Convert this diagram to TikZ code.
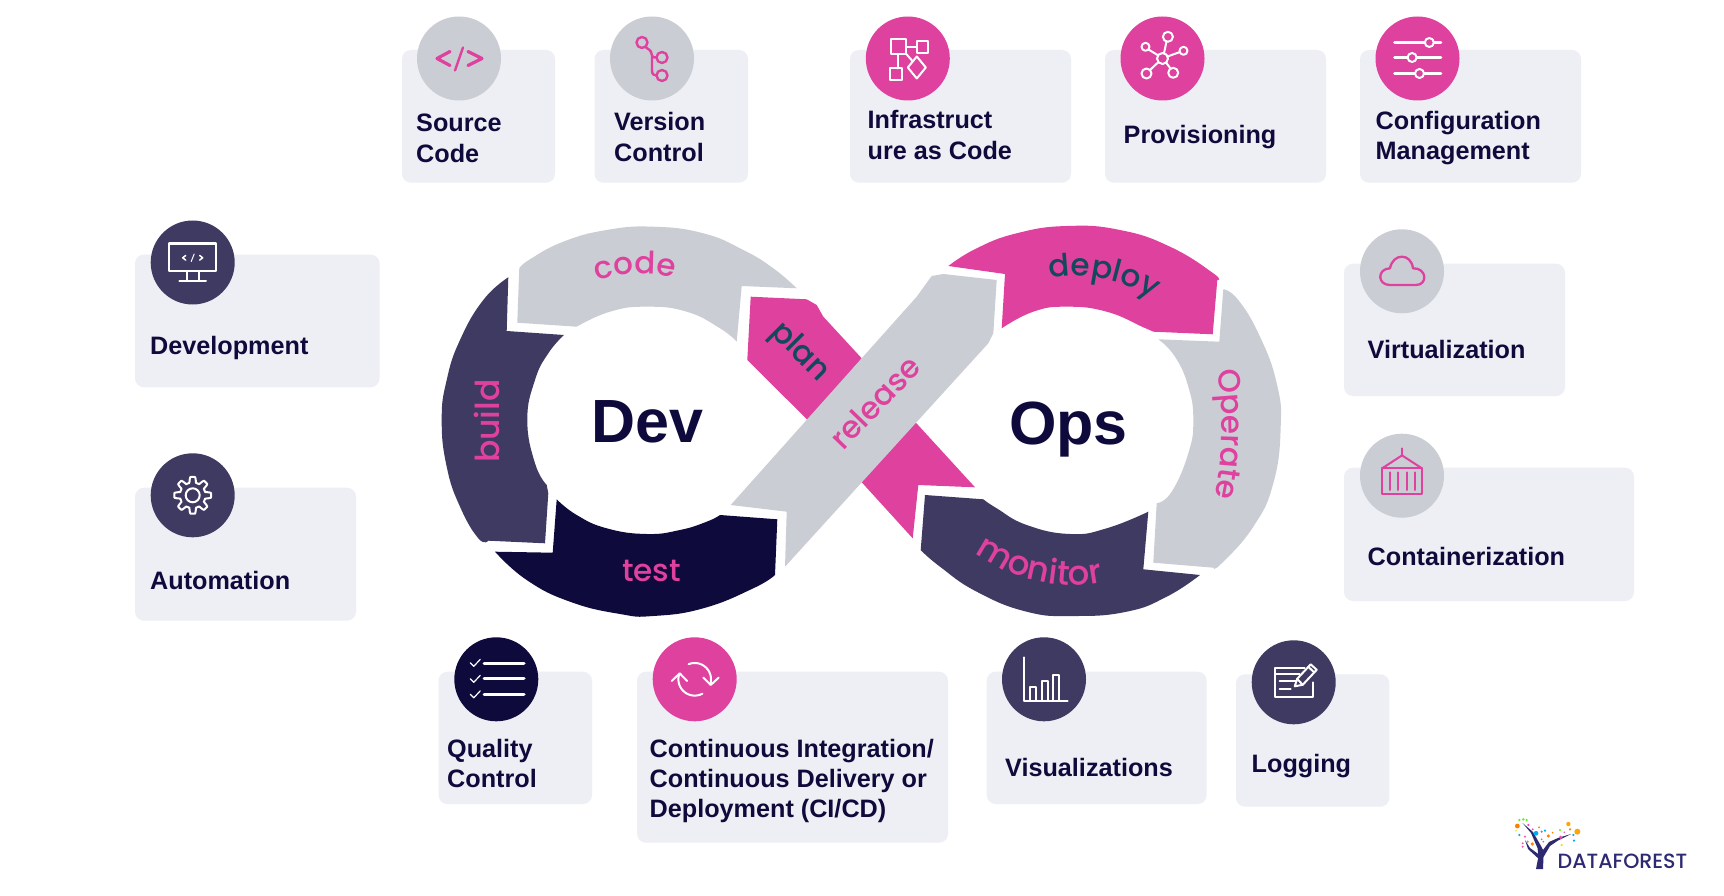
\documentclass[tikz,border=0pt]{standalone}
\usepackage{fontspec}
\setmainfont{Liberation Sans}
\newfontfamily\rnd{Poppins Medium}
\usetikzlibrary{decorations.text}
\definecolor{pk}{HTML}{DE419E}
\definecolor{gy}{HTML}{CBCDD5}
\definecolor{nv}{HTML}{3F3A62}
\definecolor{dk}{HTML}{0F0A3C}
\definecolor{cardc}{HTML}{EEEFF4}
\definecolor{teal2}{HTML}{124A5C}
\definecolor{logoc}{HTML}{2E2A72}
\tikzset{
 x=1pt,y=-1pt,
 cardbox/.style={fill=cardc,rounded corners=9pt,draw=none},
 badge/.style={circle,minimum size=84pt,inner sep=0pt,draw=none},
 lbl/.style={anchor=base west,inner sep=0pt,text=dk,font=\bfseries\fontsize{25.2}{30}\selectfont},
 big/.style={anchor=base west,inner sep=0pt,text=dk,font=\bfseries\fontsize{61}{61}\selectfont},
 arcword/.style={inner sep=0pt,text=pk,font=\rnd\fontsize{31}{36}\selectfont},
 ico/.style={line width=2pt,line cap=round,line join=round},
}
\newcommand\twol[2]{\vtop{\baselineskip=30.2pt\hbox{#1}\hbox{#2}}}
\newcommand\threel[3]{\vtop{\baselineskip=30.2pt\hbox{#1}\hbox{#2}\hbox{#3}}}
\begin{document}
\begin{tikzpicture}
\useasboundingbox (0,0) rectangle (1724,896);
\fill[white] (0,0) rectangle (1724,896);
% ---------- cards ----------
\fill[cardbox] (402,50) rectangle (555,182.7);
\fill[cardbox] (594.5,50) rectangle (748,182.7);
\fill[cardbox] (850,50) rectangle (1071,182.7);
\fill[cardbox] (1105,50) rectangle (1326,182.7);
\fill[cardbox] (1360,50) rectangle (1581,182.7);
\fill[cardbox] (135,254.5) rectangle (379.5,387.3);
\fill[cardbox] (135,487.7) rectangle (356,620.7);
\fill[cardbox] (1344,263.7) rectangle (1565,396);
\fill[cardbox] (1344,467.7) rectangle (1634,601);
\fill[cardbox] (438.5,671.7) rectangle (592,804);
\fill[cardbox] (637,671.7) rectangle (948,842.7);
\fill[cardbox] (986.7,671.7) rectangle (1206.7,804);
\fill[cardbox] (1236,674.3) rectangle (1389.3,806.7);
% ---------- badges ----------
\node[badge,fill=gy] (bSource) at (459,58.5) {};
\node[badge,fill=gy] (bVersion) at (652,58.5) {};
\node[badge,fill=pk] (bInfra) at (907.8,58.5) {};
\node[badge,fill=pk] (bProv) at (1162.5,58.5) {};
\node[badge,fill=pk] (bConf) at (1417.5,58.5) {};
\node[badge,fill=nv] (bDev) at (192.7,262.5) {};
\node[badge,fill=nv] (bAuto) at (192.7,495.3) {};
\node[badge,fill=gy] (bVirt) at (1402,271.3) {};
\node[badge,fill=gy] (bCont) at (1402,475.7) {};
\node[badge,fill=dk] (bQual) at (496.3,679.3) {};
\node[badge,fill=pk] (bCI) at (694.7,679.3) {};
\node[badge,fill=nv] (bVis) at (1044,679.3) {};
\node[badge,fill=nv] (bLog) at (1293.7,682.3) {};
% ---------- labels ----------
\node[lbl] (tSource) at (416,132) {\twol{Source}{Code}};
\node[lbl] (tVersion) at (614,131) {\twol{Version}{Control}};
\node[lbl] (tInfra) at (867.5,129) {\twol{Infrastruct}{ure as Code}};
\node[lbl] (tProv) at (1123.5,143.5) {Provisioning};
\node[lbl] (tConf) at (1375.5,129.5) {\twol{Configuration}{Management}};
\node[lbl] (tDev) at (150,354.5) {Development};
\node[lbl] (tAuto) at (150,589.3) {Automation};
\node[lbl] (tVirt) at (1367.5,358.5) {Virtualization};
\node[lbl] (tCont) at (1367.5,565) {Containerization};
\node[lbl] (tQual) at (447,757) {\twol{Quality}{Control}};
\node[lbl] (tCI) at (649.5,757.5) {\threel{Continuous Integration/}{Continuous Delivery or}{Deployment (CI/CD)}};
\node[lbl] (tVis) at (1005,776) {Visualizations};
\node[lbl] (tLog) at (1251.5,772.7) {Logging};
% ---------- infinity segments ----------
% code
\fill[gy] plot[smooth,tension=.8] coordinates {(519.3,268.3) (530,259.3) (563.3,241.7) (606.7,230) (653.3,226.7) (703.3,233.3) (743.3,250) (773.3,268.3) (796.7,288.3)}
 -- (741.7,286) -- (736.7,341.7)
 -- plot[smooth,tension=.8] coordinates {(736.7,341.7) (720,328.3) (686.7,311.7) (646.7,306.7) (610,311.7) (576.7,326.7)}
 -- (517.3,322.7) -- cycle;
% build
\fill[nv] plot[smooth,tension=.8] coordinates {(508.3,277.3) (483.3,300) (460,340) (446.7,380) (441.7,420) (446.7,466.7) (460,506.7) (478.3,538.3) (488.3,540.7)}
 -- (545,543.3) -- (548.3,493.3) -- (546.7,485)
 -- plot[smooth,tension=.8] coordinates {(546.7,485) (535,463.3) (527.3,420) (535,380) (548.3,353.3) (564,335)}
 -- (506.7,331) -- cycle;
% test
\fill[dk] plot[smooth,tension=.8] coordinates {(495,551.7) (526.7,580) (570,601.7) (620,614) (653.3,616) (703.3,608.3) (753.3,588.3) (775,575)}
 -- (777.3,519.3) -- (720,515)
 -- plot[smooth,tension=.8] coordinates {(720,515) (706.7,521.7) (680,530) (646.7,534) (606.7,528.3) (576.7,515) (556.7,499.3)}
 -- (552.7,552.7) -- cycle;
% plan
\fill[pk] (750.7,296.7) -- (806.7,299.3) -- (816.7,305) -- (823.3,316.7) -- (861.7,358.3) -- (808.3,420.7) -- (747.3,360) -- cycle;
% lower crossing
\fill[pk] (915,421.7) -- (975,487.3) -- (918.3,485) -- (912.7,538.3) -- (861,481.5) -- cycle;
% release
\fill[gy] (730.7,505) -- (916.7,296.7) -- (931.7,276) -- (943.3,274) -- (996.7,280) -- (993.3,333.3) -- (988.3,343.3) -- (785,566.7) -- (786.7,511.7) -- cycle;
% deploy
\fill[pk] plot[smooth,tension=.8] coordinates {(948.3,266) (976.7,248.3) (1016.7,233.3) (1066.7,226) (1120,230) (1170,246.7) (1213.3,273.3) (1217.3,280)}
 -- (1212.7,334.3) -- (1153.3,331.7)
 -- plot[smooth,tension=.8] coordinates {(1153.3,331.7) (1143.3,327.3) (1106.7,311.7) (1066.7,306.7) (1033.3,311.7) (1001.7,328.3)}
 -- (1005,274) -- cycle;
% operate
\fill[gy] plot[smooth,tension=.8] coordinates {(1223.3,289.3) (1238.3,300) (1260,336.7) (1276.7,383.3) (1280.7,426.7) (1273.3,483.3) (1253.3,526.7) (1221.7,563.3) (1213.3,567.7)}
 -- (1153.3,562.7) -- (1156.7,503.3)
 -- plot[smooth,tension=.8] coordinates {(1156.7,503.3) (1171.7,491.7) (1188.3,453.3) (1193.3,420) (1188.3,386.7) (1175,356.7) (1158.3,339.3)}
 -- (1219.3,341.7) -- cycle;
% monitor
\fill[nv] (925,495) -- (983.3,499.3)
 -- plot[smooth,tension=.8] coordinates {(983.3,499.3) (996.7,508.3) (1026.7,525) (1070,534) (1106.7,528.3) (1148.3,511.7)}
 -- (1143.3,569.3) -- (1200,575)
 -- plot[smooth,tension=.8] coordinates {(1200,575) (1166.7,596.7) (1126.7,611.7) (1073.3,616) (1026.7,611.7) (976.7,591.7) (940,566.7) (920.7,550)}
 -- cycle;
% ---------- centre and segment words ----------
\node[big] (wDev) at (591,442.7) {Dev};
\node[big] (wOps) at (1009,444.5) {Ops};
\node[arcword,rotate=90,anchor=base,font=\rnd\fontsize{33}{36}\selectfont] (wBuild) at (499,421) {build};
\node[arcword,anchor=base] (wTest) at (651.5,581.5) {test};
\node[arcword,rotate=-45,anchor=base,text=teal2] (wPlan) at (794,358) {plan};
\node[arcword,rotate=46,anchor=base] (wRelease) at (883,410) {release};
\path[decorate,decoration={text along path,text align=center,text={|\rnd\fontsize{31}{36}\selectfont\color{pk}|code}}]
 plot[domain=-122:-62,samples=25] ({640+146*cos(\x)},{420+146*sin(\x)});
\path[decorate,decoration={text along path,text align=center,text={|\rnd\fontsize{31}{36}\selectfont\color{teal2}|deploy}}]
 plot[domain=-108:-50,samples=25] ({1075+148*cos(\x)},{424+148*sin(\x)});
\path[decorate,decoration={text along path,text align=center,text={|\rnd\fontsize{31}{36}\selectfont\color{pk}|Operate}}]
 plot[domain=-17:19,samples=25] ({882+340*cos(\x)},{428+340*sin(\x)});
\path[decorate,decoration={text along path,text align=center,text={|\rnd\fontsize{34}{36}\selectfont\color{pk}|monitor}}]
 plot[domain=131:75,samples=25] ({1073+164*cos(\x)},{421+164*sin(\x)});
% ---------- icons ----------
\begin{scope}[shift={(459,58.5)},ico,pk,line width=3.2pt]
 \draw (-9,-7) -- (-22,0) -- (-9,7);
 \draw (9,-7) -- (23,0) -- (9,7);
 \draw[line width=2.4pt] (-4,12) -- (4,-11);
\end{scope}
\begin{scope}[shift={(652,58.5)},ico,pk,line width=2.4pt]
 \draw (-10,-16) circle (5.5);
 \draw (10,-1) circle (5.5);
 \draw (10,17) circle (5.5);
 \draw (-6,-11) .. controls (-1,-8) and (0,-6) .. (0,-3) -- (0,12) .. controls (0,16) and (2,17) .. (4.5,17);
 \draw (0,-3) .. controls (0,-1) and (2,-1) .. (4.5,-1);
\end{scope}
\begin{scope}[shift={(907.8,58.5)},ico,white]
 \draw (-17,-19) rectangle (-1.5,-4.5);
 \draw (9,-17) rectangle (20,-5.5);
 \draw (-18,10) rectangle (-6,22);
 \draw (9,-2) -- (18,9) -- (9,20) -- (0,9) -- cycle;
 \draw (-1.5,-11) -- (9,-11);
 \draw (-10,-4.5) -- (-10,10);
 \draw (-1.5,-4.5) -- (5,3);
\end{scope}
\begin{scope}[shift={(1162.5,58.5)},ico,white]
 \draw (0,0) circle (5.5);
 \draw (5.4,-21.7) circle (5);
 \draw (-17,-11.7) circle (4);
 \draw (21,-7.7) circle (4);
 \draw (-16,15) circle (5);
 \draw (10.7,14.3) circle (5);
 \draw (1.5,-5.3) -- (4,-17);
 \draw (-4.5,-3.2) -- (-14,-9);
 \draw (5,-2) -- (17.5,-6.5);
 \draw (-4,3.5) -- (-12.5,11.5);
 \draw (3.5,4) -- (8,10);
\end{scope}
\begin{scope}[shift={(1417.5,58.5)},ico,white]
 \draw[line width=2.6pt] (-23,-16) -- (23.5,-16);
 \draw[line width=2.6pt] (-23,-1) -- (23.5,-1);
 \draw[line width=2.6pt] (-23,15) -- (23.5,15);
 \draw[fill=pk] (11.8,-16) circle (4.5);
 \draw[fill=pk] (-5.4,-1) circle (4.5);
 \draw[fill=pk] (2,15) circle (4.5);
\end{scope}
\begin{scope}[shift={(192.7,262.5)},ico,white]
 \draw (-23.3,-19) rectangle (23.3,8.7);
 \draw (-6,8.7) -- (-6,18.7);
 \draw (6,8.7) -- (6,18.7);
 \draw (-13.3,18.7) -- (13.3,18.7);
 \draw[line width=1.5pt] (-7,-7) -- (-10,-4.7) -- (-7,-2.4);
 \draw[line width=1.5pt] (7,-7) -- (10,-4.7) -- (7,-2.4);
 \draw[line width=1pt] (-1.5,-1) -- (1.5,-8.5);
\end{scope}
\begin{scope}[shift={(192.7,495.3)},ico,white]
 \draw plot[domain=0:360,samples=145,smooth] ({(15.6+2.8*min(1,max(-1,2.2*cos(8*\x))))*cos(\x)},{(15.6+2.8*min(1,max(-1,2.2*cos(8*\x))))*sin(\x)}) -- cycle;
 \draw (0,0) circle (7);
\end{scope}
\begin{scope}[shift={(1402,271.3)},ico,pk]
 \draw[line width=2.3pt] (-12,13.7) .. controls (-25,13.7) and (-25,-2.5) .. (-12,-3) .. controls (-9,-18.5) and (9,-18.5) .. (11,-3) .. controls (25,-3.5) and (26,13.7) .. (14,13.7) -- cycle;
\end{scope}
\begin{scope}[shift={(1402,475.7)},ico,pk]
 \draw (-20,-7.3) rectangle (20,18.3);
 \draw (-20,-7.3) -- (0,-20.3) -- (20,-7.3);
 \draw (0,-20.3) -- (0,-27.3);
 \foreach \bx in {-12,-3.7,4.7,13} \draw (\bx,-3.3) -- (\bx,14.3);
\end{scope}
\begin{scope}[shift={(496.3,679.3)},ico,white]
 \draw[line width=3pt] (-12.2,-16) -- (27.7,-16);
 \draw[line width=3pt] (-12.2,-1) -- (27.7,-1);
 \draw[line width=3pt] (-12.2,14.7) -- (27.7,14.7);
 \draw[line width=1.2pt] (-26,-16.5) -- (-22.5,-13) -- (-16,-20);
 \draw[line width=1.2pt] (-26,-.5) -- (-22.5,3) -- (-16,-4);
 \draw[line width=1.2pt] (-26,15) -- (-22.5,18.5) -- (-16,11.5);
\end{scope}
\begin{scope}[shift={(694.7,679.3)},ico,white]
 \draw plot[domain=-112:19,samples=30,smooth] ({16.3*cos(\x)},{16.3*sin(\x)});
 \draw (8.6,-1.7) -- (16,5.7) -- (24,-1.7);
 \draw plot[domain=62:200,samples=30,smooth] ({16.3*cos(\x)},{16.3*sin(\x)});
 \draw (-23,1.7) -- (-15,-6) -- (-7.6,1.7);
\end{scope}
\begin{scope}[shift={(1044,679.3)},ico,white]
 \draw (-20,-22) -- (-20,21.3) -- (23.7,21.3);
 \draw (-14,21.3) -- (-14,7.3) -- (-8,7.3) -- (-8,21.3);
 \draw (-1.7,21.3) -- (-1.7,1.3) -- (4.3,1.3) -- (4.3,21.3);
 \draw (9.3,21.3) -- (9.3,-4.3) -- (15,-4.3) -- (15,21.3);
\end{scope}
\begin{scope}[shift={(1293.7,682.3)},ico,white]
 \draw (11,-14) -- (-18.7,-14) -- (-18.7,14.3) -- (19.7,14.3) -- (19.7,0);
 \draw (-18.7,-8) -- (6,-8);
 \draw (-14,-1) -- (3,-1);
 \draw (-14,6.5) -- (-3,6.5);
 \draw (1,4) -- (3.5,-3.5) -- (17,-18) -- (23,-12.5) -- (9,2.5) -- cycle;
 \draw (14.5,-15.5) -- (20.5,-10);
 \draw (3.5,-3.5) -- (9,2.5);
\end{scope}
% ---------- logo ----------
\node[anchor=base west,inner sep=0pt,text=logoc,font=\rnd\fontsize{20.6}{22}\selectfont] (logo) at (1557.5,868.5) {DATAFOREST};
\fill[logoc] (1536,869) -- (1538.5,856) -- (1537.5,848) -- (1531,833) -- (1522.5,823) -- (1533,832) -- (1541,846) -- (1543,850) -- (1549,842) -- (1558,838) -- (1571,834) -- (1558,840.5) -- (1550,846) -- (1543.5,857) -- (1543,869) -- cycle;
\fill[logoc] (1540,860) -- (1528,849) -- (1525,840) -- (1530,848) -- (1541,856) -- cycle;
\foreach \dx/\dy/\dr/\dc in {82/78/4/orange,88/60/2.2/green!70!yellow,100/58/2.2/green!70!yellow,110/60/2/green!70!yellow,78/92/1.5/yellow!80!orange,115/75/2/magenta!70,128/88/1.8/magenta!70,88/105/2/cyan,105/110/2/magenta!60,138/100/4/cyan,155/95/2/magenta!70,147/82/1.8/orange,165/92/2/cyan,155/118/1.6/magenta!70,160/125/1.6/magenta!70,175/108/3/orange,188/98/1.6/orange,210/90/1.8/green!70!yellow,235/72/3.6/orange!70!yellow,240/88/2/orange,262/95/5/orange!70!yellow,223/97/1.6/magenta!60,212/112/3/magenta!70,250/105/2/cyan,252/122/2/cyan,215/135/2/yellow!80!orange,127/132/3/orange,113/125/2/orange,98/130/1.8/magenta!70,98/140/1.8/magenta!70}
 \fill[\dc] ({1490+\dx/3},{800+\dy/3}) circle (\dr*0.6);
\end{tikzpicture}
\end{document}
